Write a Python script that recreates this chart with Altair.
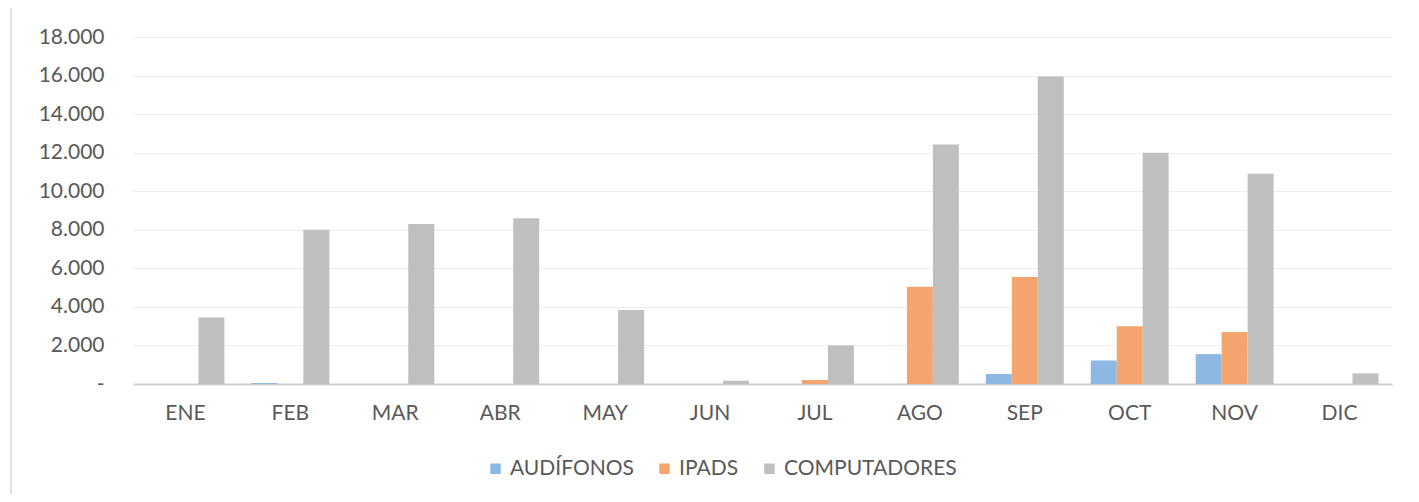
import altair as alt
import pandas as pd

months = ["ENE", "FEB", "MAR", "ABR", "MAY", "JUN", "JUL", "AGO", "SEP", "OCT", "NOV", "DIC"]
series = ["AUDÍFONOS", "IPADS", "COMPUTADORES"]
audifonos = [0, 50, 0, 0, 0, 0, 0, 0, 520, 1220, 1550, 0]
ipads = [0, 0, 0, 0, 0, 0, 210, 5050, 5550, 3000, 2700, 0]
computadores = [3450, 8000, 8300, 8600, 3840, 170, 2000, 12420, 15950, 12000, 10900, 550]
colors = ["#8cb8e2", "#f3a56d", "#bfbfbf"]
y_ticks = [0, 2000, 4000, 6000, 8000, 10000, 12000, 14000, 16000, 18000]

rows = []
for i, m in enumerate(months):
    for s, vals in zip(series, [audifonos, ipads, computadores]):
        rows.append({"mes": m, "serie": s, "valor": vals[i]})
df = pd.DataFrame(rows)

font = "Lato"
txt = "#595959"

bars = alt.Chart(df).mark_bar().encode(
    x=alt.X("mes:N", sort=months,
            scale=alt.Scale(paddingInner=0, paddingOuter=0),
            axis=alt.Axis(title=None, labelAngle=0, ticks=False, grid=False,
                          domainColor="#d0d0d0", domainWidth=2,
                          labelPadding=18, labelFontSize=21, labelColor=txt,
                          labelFont=font)),
    xOffset=alt.XOffset("serie:N", sort=series,
                        scale=alt.Scale(paddingInner=0, paddingOuter=0.52)),
    y=alt.Y("valor:Q", scale=alt.Scale(domain=[0, 18000], nice=False),
            axis=alt.Axis(title=None, values=y_ticks, domain=False, ticks=False,
                          gridColor="#ececec", gridWidth=1,
                          labelPadding=29, labelFontSize=21, labelColor=txt,
                          labelFont=font,
                          labelExpr="datum.value == 0 ? '-\u00a0\u00a0\u00a0' : replace(format(datum.value, ','), ',', '.')")),
    color=alt.Color("serie:N", sort=series,
                    scale=alt.Scale(domain=series, range=colors),
                    legend=alt.Legend(title=None, orient="none", legendX=352, legendY=421,
                                      direction="horizontal", symbolType="square",
                                      symbolSize=110, symbolStrokeWidth=0,
                                      labelFontSize=21, labelFont=font, labelColor=txt,
                                      labelLimit=400,
                                      columnPadding=20, labelOffset=4)),
)

border = alt.Chart(pd.DataFrame({"a": [0]})).mark_rule(color="#d9d9d9", strokeWidth=1.5).encode(
    x=alt.value(-122), y=alt.value(-29), y2=alt.value(470)
)

chart = alt.layer(border, bars).properties(
    width=1259, height=347,
    background="white",
    padding={"left": 125, "top": 29, "right": 19, "bottom": 110},
    autosize=alt.AutoSizeParams(type="none"),
).configure_view(strokeWidth=0, strokeOpacity=0)

chart.save("out.html", embed_options={"renderer": "svg", "actions": False})
